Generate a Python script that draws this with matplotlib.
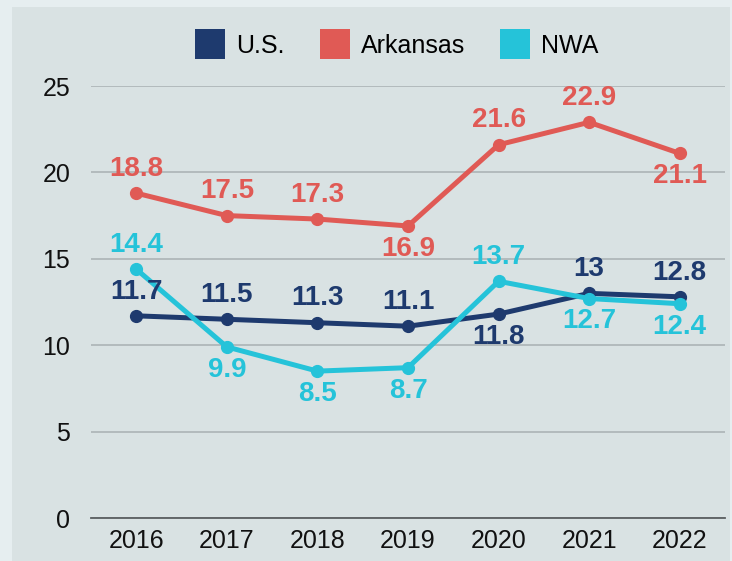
import matplotlib.pyplot as plt
from matplotlib.lines import Line2D
from matplotlib.patches import Rectangle

plt.rcParams['font.family'] = ['Liberation Sans', 'DejaVu Sans']

# data
years = ["2016", "2017", "2018", "2019", "2020", "2021", "2022"]
us = [11.7, 11.5, 11.3, 11.1, 11.8, 13, 12.8]
arkansas = [18.8, 17.5, 17.3, 16.9, 21.6, 22.9, 21.1]
nwa = [14.4, 9.9, 8.5, 8.7, 13.7, 12.7, 12.4]
# label side: 1 = above, -1 = below
us_side = [1, 1, 1, 1, -1, 1, 1]
ark_side = [1, 1, 1, -1, 1, 1, -1]
nwa_side = [1, -1, -1, -1, 1, -1, -1]

c_us = "#1e3a6e"
c_ark = "#e05a55"
c_nwa = "#25c3d9"

fig = plt.figure(figsize=(7.32, 5.61), dpi=100)
fig.patch.set_facecolor("#e6eef0")
fig.patches.append(Rectangle((12 / 732, 0), (730 - 12) / 732, (561 - 7) / 561,
                             transform=fig.transFigure, facecolor="#d9e2e3",
                             edgecolor="none", zorder=-10))

ax = fig.add_axes([91 / 732, 43 / 561, (725 - 91) / 732, (518 - 86) / 561])
ax.set_facecolor("none")

x = range(len(years))
for vals, sides, col, name in [(us, us_side, c_us, "U.S."),
                               (nwa, nwa_side, c_nwa, "NWA"),
                               (arkansas, ark_side, c_ark, "Arkansas")]:
    ax.plot(x, vals, color=col, lw=3.6, marker="o", ms=8.5, clip_on=False,
            solid_capstyle="round", zorder=3)
    for xi, v, s in zip(x, vals, sides):
        lab = ("%g" % v)
        ax.annotate(lab, (xi, v), xytext=(0, 17.5 if s > 0 else -16.5),
                    textcoords="offset points", ha="center", va="center",
                    fontsize=20, fontweight="bold", color=col, zorder=4)

ax.set_xlim(-0.5, len(years) - 0.5)
ax.set_ylim(0, 25)
ax.set_yticks([0, 5, 10, 15, 20, 25])
ax.set_xticks(list(x))
ax.set_xticklabels(years)
ax.tick_params(axis="both", length=0, labelsize=18, colors="#111111")
ax.tick_params(axis="y", pad=15)
ax.tick_params(axis="x", pad=8)
ax.grid(axis="y", color="#b0b7b9", lw=1.3, zorder=1)
ax.set_axisbelow(True)
for sp in ["top", "right", "left"]:
    ax.spines[sp].set_visible(False)
ax.spines["bottom"].set_color("#5a5f61")
ax.spines["bottom"].set_linewidth(1.3)

handles = [Line2D([], [], ls="none", marker="s", ms=22, color=c,
                  markeredgewidth=0) for c in (c_us, c_ark, c_nwa)]
fig.legend(handles, ["U.S.", "Arkansas", "NWA"], loc="center",
           bbox_to_anchor=(398 / 732, 1 - 46 / 561), ncol=3, frameon=False,
           fontsize=18, handletextpad=0.55, columnspacing=1.5,
           handlelength=1.0)

fig.savefig("out.png", dpi=100, facecolor=fig.get_facecolor())
